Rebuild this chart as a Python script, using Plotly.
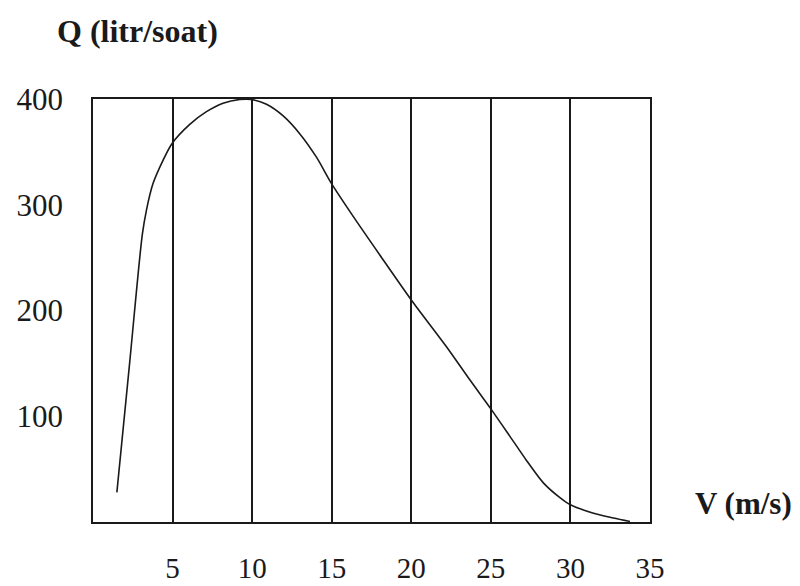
import plotly.graph_objects as go

# Data
speed_v = [1.5, 2.3, 3.1, 3.36, 3.77, 4.4, 4.97, 6.08, 7.13, 8.17, 9.22, 9.96,
           10.9, 11.95, 13.0, 14.04, 14.99, 16.35, 18.0, 20.0, 22.2, 23.7, 25.0,
           26.2, 27.25, 28.3, 29.34, 29.97, 31.4, 32.7, 33.74]
flow_q = [28, 150, 272, 295, 320, 342, 358, 376, 388, 396, 399.5, 399.5,
          395, 384, 367, 345, 320, 289, 253, 210, 166, 134, 107,
          81, 58, 37, 23, 16.5, 8.5, 3.8, 0.5]

x_ticks = [5, 10, 15, 20, 25, 30, 35]
y_ticks = [100, 200, 300, 400]

x_title = "V (m/s)"
y_title = "Q (litr/soat)"

font_family = "Liberation Serif, Times New Roman, serif"
ink = "#1a1a1a"

fig = go.Figure()
fig.add_trace(go.Scatter(
    x=speed_v, y=flow_q, mode="lines",
    line=dict(color=ink, width=1.6, shape="spline", smoothing=0.8),
    hoverinfo="skip", showlegend=False,
))

fig.update_layout(
    width=800, height=586,
    margin=dict(l=93, r=150, t=99, b=64),
    paper_bgcolor="white", plot_bgcolor="white",
    font=dict(family=font_family, size=32, color=ink),
    xaxis=dict(
        range=[0, 35], tickvals=x_ticks, ticktext=[str(t) for t in x_ticks],
        showgrid=True, gridcolor=ink, gridwidth=1.6,
        showline=True, linecolor=ink, linewidth=1.8, mirror=True,
        zeroline=False, ticks="", ticklabelstandoff=19, automargin=False,
        tickfont=dict(family=font_family, size=29, color=ink),
        fixedrange=True,
    ),
    yaxis=dict(
        range=[0, 400], tickvals=y_ticks, ticktext=[str(t) for t in y_ticks],
        showgrid=False,
        showline=True, linecolor=ink, linewidth=1.8, mirror=True,
        zeroline=False, ticks="", ticklabelstandoff=22, automargin=False,
        tickfont=dict(family=font_family, size=31, color=ink),
        fixedrange=True,
    ),
    annotations=[
        dict(text="<b>" + y_title + "</b>", xref="paper", yref="paper",
             x=-0.068, y=1.0, yshift=68, xanchor="left", yanchor="middle",
             showarrow=False, font=dict(family=font_family, size=32, color=ink)),
        dict(text="<b>" + x_title + "</b>", xref="paper", yref="paper",
             x=1.0, y=0.0, xshift=43, yshift=19, xanchor="left", yanchor="middle",
             showarrow=False, font=dict(family=font_family, size=31, color=ink)),
    ],
)

fig.write_html(
    "out.html",
    config={"displayModeBar": False},
    post_script="document.body.style.margin='0';document.body.style.overflow='hidden';",
)
